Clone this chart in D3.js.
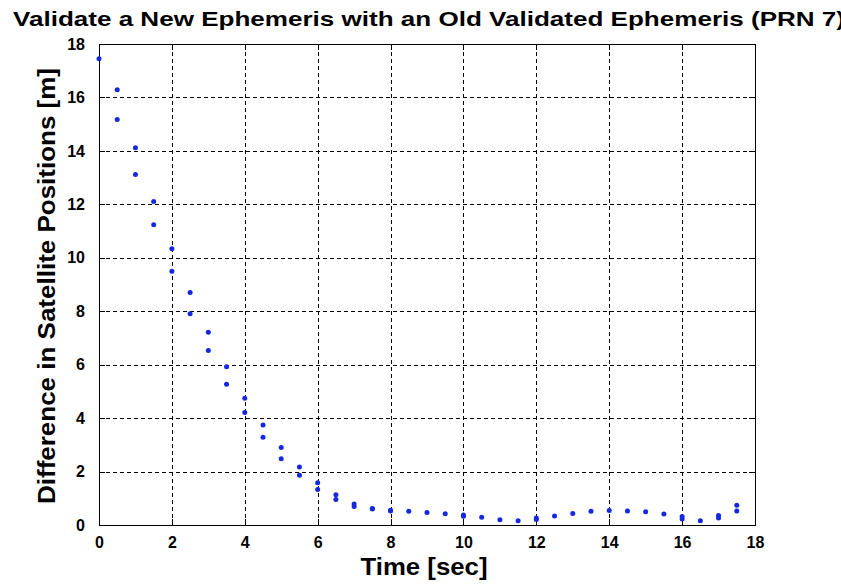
<!DOCTYPE html>
<html>
<head>
<meta charset="utf-8">
<script src="https://cdn.jsdelivr.net/npm/d3@7"></script>
<style>
  html, body { margin: 0; padding: 0; background: #ffffff; overflow: hidden; }
  svg { display: block; font-family: "Liberation Sans", Arial, Helvetica, sans-serif; }
</style>
</head>
<body>
<svg id="chart" width="841" height="587"></svg>
<script>
// Sample times (s) and position differences (m); two solutions per epoch where they separate
const timeSec = [
  0,
  0.5, 0.5, 1, 1, 1.5, 1.5, 2, 2, 2.5, 2.5, 3, 3, 3.5, 3.5,
  4, 4, 4.5, 4.5, 5, 5, 5.5, 5.5, 6, 6, 6.5, 6.5, 7, 7, 7.5, 7.5,
  8, 8, 8.5, 9, 9.5, 10, 10, 10.5, 11, 11.5, 12, 12,
  12.5, 13, 13.5, 14, 14.5, 15, 15.5, 16, 16, 16.5, 17, 17, 17.5, 17.5
];
const posDiff = [
  17.45,
  16.29, 15.17, 14.12, 13.12, 12.11, 11.24, 10.34, 9.50, 8.70, 7.91, 7.21, 6.53, 5.92, 5.27,
  4.74, 4.21, 3.74, 3.28, 2.90, 2.48, 2.17, 1.86, 1.58, 1.33, 1.13, 0.95, 0.79, 0.69, 0.62, 0.60,
  0.55, 0.52, 0.51, 0.47, 0.42, 0.37, 0.33, 0.29, 0.20, 0.16, 0.26, 0.21,
  0.34, 0.43, 0.51, 0.54, 0.52, 0.50, 0.41, 0.32, 0.22, 0.16, 0.36, 0.26, 0.74, 0.52
];
const xTicks = [0, 2, 4, 6, 8, 10, 12, 14, 16, 18];
const yTicks = [0, 2, 4, 6, 8, 10, 12, 14, 16, 18];

const titleText = "Validate a New Ephemeris with an Old Validated Ephemeris (PRN 7)";
const xLabelText = "Time [sec]";
const yLabelText = "Difference in Satellite Positions [m]";

const svg = d3.select("#chart");
const plotLeft = 99, plotRight = 755, plotTop = 44, plotBottom = 525;

const x = d3.scaleLinear().domain([0, 18]).range([plotLeft, plotRight]);
const y = d3.scaleLinear().domain([0, 18]).range([plotBottom, plotTop]);

// Dashed grid
const grid = svg.append("g").attr("stroke", "#000").attr("stroke-width", 1)
  .attr("stroke-dasharray", "4,3").attr("shape-rendering", "crispEdges");
grid.selectAll("line.vx").data(xTicks.slice(1, -1)).join("line")
  .attr("x1", d => Math.round(x(d)) + 0.5).attr("x2", d => Math.round(x(d)) + 0.5)
  .attr("y1", plotBottom).attr("y2", plotTop);
grid.selectAll("line.hy").data(yTicks.slice(1, -1)).join("line")
  .attr("y1", d => Math.round(y(d)) + 0.5).attr("y2", d => Math.round(y(d)) + 0.5)
  .attr("x1", plotLeft).attr("x2", plotRight);

// Axes with inward ticks
const tickLen = 6;
const xAxis = svg.append("g").attr("transform", `translate(0,${plotBottom})`)
  .call(d3.axisBottom(x).tickValues(xTicks).tickSizeInner(-tickLen).tickSizeOuter(0).tickPadding(12));
const yAxis = svg.append("g").attr("transform", `translate(${plotLeft},0)`)
  .call(d3.axisLeft(y).tickValues(yTicks).tickSizeInner(-tickLen).tickSizeOuter(0).tickPadding(14));
const xTop = svg.append("g").attr("transform", `translate(0,${plotTop})`)
  .call(d3.axisTop(x).tickValues(xTicks).tickSizeInner(-tickLen).tickSizeOuter(0).tickFormat(""));
const yRight = svg.append("g").attr("transform", `translate(${plotRight},0)`)
  .call(d3.axisRight(y).tickValues(yTicks).tickSizeInner(-tickLen).tickSizeOuter(0).tickFormat(""));

[xAxis, yAxis, xTop, yRight].forEach(g => {
  g.select(".domain").remove();
  g.selectAll("line").attr("stroke", "#000").attr("stroke-width", 1).attr("shape-rendering", "crispEdges");
  g.selectAll("text").attr("fill", "#000").attr("font-size", 16).attr("font-weight", "bold")
    .attr("font-family", "'Liberation Sans', Arial, sans-serif");
});
xAxis.selectAll("text").attr("dy", "0.71em");

// Axes box
svg.append("rect")
  .attr("x", plotLeft + 0.5).attr("y", plotTop + 0.5)
  .attr("width", plotRight - plotLeft).attr("height", plotBottom - plotTop)
  .attr("fill", "none").attr("stroke", "#000").attr("stroke-width", 1)
  .attr("shape-rendering", "crispEdges");

// Data points
svg.append("g").selectAll("circle").data(timeSec.map((t, i) => [t, posDiff[i]])).join("circle")
  .attr("cx", d => x(d[0])).attr("cy", d => y(d[1])).attr("r", 2.5)
  .attr("fill", "#1428e0");

// Title and axis labels
svg.append("text")
  .attr("x", 429).attr("y", 26)
  .attr("text-anchor", "middle").attr("font-size", 20.5).attr("font-weight", "bold")
  .attr("textLength", 832).attr("lengthAdjust", "spacingAndGlyphs")
  .text(titleText);

svg.append("text")
  .attr("x", 424).attr("y", 575)
  .attr("text-anchor", "middle").attr("font-size", 23).attr("font-weight", "bold")
  .attr("textLength", 127).attr("lengthAdjust", "spacingAndGlyphs")
  .text(xLabelText);

svg.append("text")
  .attr("transform", `translate(55,286) rotate(-90)`)
  .attr("text-anchor", "middle").attr("font-size", 24).attr("font-weight", "bold")
  .attr("textLength", 436).attr("lengthAdjust", "spacingAndGlyphs")
  .text(yLabelText);
</script>
</body>
</html>
